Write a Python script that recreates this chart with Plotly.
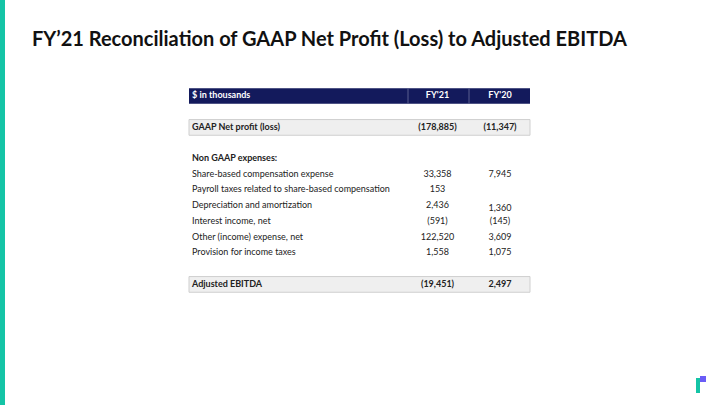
import plotly.graph_objects as go

# ---------------- data ----------------
title = "FY\u201921 Reconciliation of GAAP Net Profit (Loss) to Adjusted EBITDA"
header = ["$ in thousands", "FY'21", "FY'20"]
row_labels = ["", "GAAP Net profit (loss)", "", "Non GAAP expenses:",
              "Share-based compensation expense",
              "Payroll taxes related to share-based compensation",
              "Depreciation and amortization",
              "Interest income, net",
              "Other (income) expense, net",
              "Provision for income taxes",
              "", "Adjusted EBITDA"]
fy21 = ["", "(178,885)", "", "", "33,358", "153", "2,436", "(591)", "122,520", "1,558", "", "(19,451)"]
fy20 = ["", "(11,347)", "", "", "7,945", "", "1,360", "(145)", "3,609", "1,075", "", "2,497"]
bold_rows = ["GAAP Net profit (loss)", "Non GAAP expenses:", "Adjusted EBITDA"]
shaded_rows = ["GAAP Net profit (loss)", "Adjusted EBITDA"]

# ---------------- layout constants ----------------
W, H = 720, 405
FONT = "Lato, 'Open Sans', sans-serif"
NAVY = "#131a5c"
TEAL = "#14c4a6"
PURPLE = "#6a5cf6"
GRAY_FILL = "#efefef"
GRAY_LINE = "#cfcfcf"
TEXT = "#222222"

tbl_left, tbl_right = 189, 530
col_div1, col_div2 = 408, 469
label_x = 192
c21_x = (col_div1 + col_div2) / 2 - 1
c20_x = (col_div2 + tbl_right) / 2 + 0.5
row_h = 15.7
header_center = 96
nudge20 = {"Depreciation and amortization": 2.5}

fig = go.Figure()
shapes = []

# left accent bar
shapes.append(dict(type="rect", x0=0, x1=5, y0=0, y1=H, fillcolor=TEAL, line_width=0, layer="below"))

# header band
h_top = header_center - row_h / 2
shapes.append(dict(type="rect", x0=tbl_left, x1=tbl_right, y0=h_top, y1=h_top + row_h,
                   fillcolor=NAVY, line_width=0, layer="below"))
for xd in (col_div1, col_div2):
    shapes.append(dict(type="line", x0=xd, x1=xd, y0=h_top, y1=h_top + row_h,
                       line=dict(color="#5a5f8f", width=1)))

# row positions
centers = [header_center + row_h * (i + 1) for i in range(len(row_labels))]
for lab, yc in zip(row_labels, centers):
    if lab in shaded_rows:
        shapes.append(dict(type="rect", x0=tbl_left, x1=tbl_right, y0=yc - row_h / 2, y1=yc + row_h / 2,
                           fillcolor=GRAY_FILL, line=dict(color=GRAY_LINE, width=1), layer="below"))

# header text
fig.add_trace(go.Scatter(x=[label_x], y=[header_center], mode="text", text=["<b>" + header[0] + "</b>"],
                         textposition="middle right",
                         textfont=dict(family=FONT, size=9, color="white"), hoverinfo="skip"))
fig.add_trace(go.Scatter(x=[c21_x, c20_x], y=[header_center, header_center], mode="text",
                         text=["<b>" + h + "</b>" for h in header[1:]], textposition="middle center",
                         textfont=dict(family=FONT, size=9, color="white"), hoverinfo="skip"))

def fmt(s, lab):
    return "<b>" + s + "</b>" if (lab in bold_rows and s) else s

fig.add_trace(go.Scatter(x=[label_x] * len(row_labels), y=centers, mode="text",
                         text=[fmt(l, l) for l in row_labels], textposition="middle right",
                         textfont=dict(family=FONT, size=9, color=TEXT), hoverinfo="skip"))
fig.add_trace(go.Scatter(x=[c21_x] * len(fy21), y=centers, mode="text",
                         text=[fmt(v, l) for v, l in zip(fy21, row_labels)], textposition="middle center",
                         textfont=dict(family=FONT, size=9, color=TEXT), hoverinfo="skip"))
fig.add_trace(go.Scatter(x=[c20_x] * len(fy20), y=[c + nudge20.get(l, 0) for c, l in zip(centers, row_labels)],
                         mode="text",
                         text=[fmt(v, l) for v, l in zip(fy20, row_labels)], textposition="middle center",
                         textfont=dict(family=FONT, size=9, color=TEXT), hoverinfo="skip"))

# logo (bottom right)
shapes.append(dict(type="rect", x0=696, x1=700, y0=378, y1=393, fillcolor=TEAL, line_width=0))
shapes.append(dict(type="rect", x0=700, x1=706, y0=376, y1=382, fillcolor=PURPLE, line_width=0))

fig.update_layout(
    width=W, height=H, margin=dict(l=0, r=0, t=0, b=0),
    paper_bgcolor="white", plot_bgcolor="white", showlegend=False,
    xaxis=dict(range=[0, W], visible=False, fixedrange=True),
    yaxis=dict(range=[H, 0], visible=False, fixedrange=True),
    shapes=shapes,
    annotations=[dict(text="<b>" + title + "</b>", x=30, y=38, xref="x", yref="y",
                      xanchor="left", yanchor="middle", showarrow=False,
                      font=dict(family=FONT, size=20, color="#111111"))],
)

fig.write_html("out.html", config={"displayModeBar": False},
               post_script="document.body.style.margin='0';document.body.style.overflow='hidden';")
